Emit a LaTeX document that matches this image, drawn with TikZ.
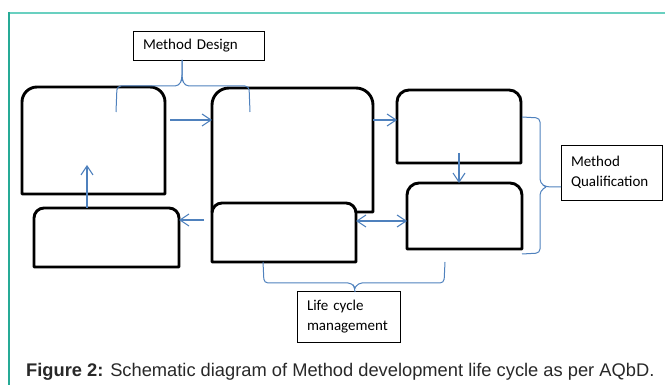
\documentclass[tikz,border=0pt]{standalone}
\usepackage{fontspec}
\setmainfont{Carlito}
\newfontfamily\capfont{Liberation Sans}
\usepackage{tikz}
\usepackage{xcolor}
\usetikzlibrary{positioning, arrows.meta}
\definecolor{mdblue}{RGB}{79, 129, 189}
\definecolor{frameteal}{RGB}{105, 208, 192}
\definecolor{edgeteal}{RGB}{38, 170, 150}
\definecolor{capgray}{RGB}{40, 40, 40}

\tikzset{
  stage/.style={inner sep=0pt, outer sep=0pt, anchor=north west},
  frameline/.style={line width=2.9pt, black, line join=round},
  labelbox/.style={draw, line width=0.8pt, inner xsep=10pt, inner ysep=0pt, outer sep=0pt,
    anchor=north west, align=left, font=\fontsize{15}{20}\selectfont},
  flow/.style={mdblue, line width=1.1pt, -{Straight Barb[length=9pt, width=12pt]}},
  brace/.style={mdblue, line width=1pt, rounded corners=4pt},
}

% outline with rounded top corners only
\newcommand{\tabframe}[3][]{%
  \draw[frameline, #1] (#2.south west) -- ([yshift=-#3]#2.north west)
    arc[start angle=180, end angle=90, radius=#3]
    -- ([xshift=-#3]#2.north east)
    arc[start angle=90, end angle=0, radius=#3] -- (#2.south east) -- cycle;}

\begin{document}
\begin{tikzpicture}[x=1pt, y=-1pt]
                    \useasboundingbox (0,0) rectangle (665,385);
                    \draw[frameteal, line width=2pt] (9,13) -- (665,13);
                    \draw[edgeteal, line width=1.5pt] (9,12) -- (9,385);

                    \node[stage, minimum width=143pt, minimum height=107pt] (leftbox) at (22,87) {};
                    \node[stage, minimum width=161pt, minimum height=124pt] (centerbox) at (212,88) {};
                    \node[stage, minimum width=144pt, minimum height=59pt] (lowcenter) at (212,203) {};
                    \node[stage, minimum width=145pt, minimum height=59pt] (lowleft) at (34,208) {};
                    \node[stage, minimum width=124pt, minimum height=73pt] (rightbox) at (397,90) {};
                    \node[stage, minimum width=115pt, minimum height=66pt] (lowright) at (407,183) {};

                    \tabframe{leftbox}{15pt}
                    \tabframe{centerbox}{17pt}
                    \tabframe[fill=white]{lowcenter}{10pt}
                    \tabframe{lowleft}{10pt}
                    \tabframe{rightbox}{12pt}
                    \tabframe{lowright}{12pt}

                    \node[labelbox, minimum height=29pt, text width=111pt] (mdesign) at (133,31) {Method Design};
                    \node[labelbox, minimum height=55pt, text width=81pt] (mqual) at (561,145) {Method\\Qualification};
                    \node[labelbox, minimum height=51pt, text width=83pt] (lifecycle) at (297,291) {Life cycle\\management};

                    \draw[flow] ([shift={(5pt,-33pt)}]leftbox.north east) -- ([yshift=-32pt]centerbox.north west);
                    \draw[flow] ([yshift=-32pt]centerbox.north east) -- ([yshift=-30pt]rightbox.north west);
                    \draw[flow] ([yshift=10pt]rightbox.south) -- (rightbox.south |- lowright.north);
                    \draw[flow, {Straight Barb[length=9pt, width=12pt]}-{Straight Barb[length=9pt, width=12pt]}]
                      ([yshift=11.5pt]lowcenter.east) -- ([yshift=-5pt]lowright.west);
                    \draw[flow] ([shift={(-8pt,12.5pt)}]lowcenter.west) -- ([yshift=17.5pt]lowleft.east);
                    \draw[flow] ([xshift=-19.5pt]lowleft.north) -- ([shift={(-6.5pt,29pt)}]leftbox.south);

                    \coordinate (mdl) at (116,112);
                    \coordinate (mdr) at (250,112);
                    \draw[brace] (mdl) -- (117,86) -- (179,86) -- (182,79) -- ([xshift=-16.5pt]mdesign.south);
                    \draw[brace] ([xshift=-16.5pt]mdesign.south) -- (182,79) -- (185,86) -- (249,86) -- (mdr);

                    \coordinate (mqt) at (522,117);
                    \coordinate (mqb) at (522,254);
                    \draw[brace] (mqt) -- (540,118) -- (540,183) -- (546,187) -- ([yshift=-14.5pt]mqual.west);
                    \draw[brace] (mqb) -- (540,253) -- (540,191) -- (546,187);

                    \coordinate (lcl) at (263,262);
                    \coordinate (lcr) at (445,262);
                    \draw[brace] (lcl) -- (264,283) -- (352,283) -- (355,288) -- ([xshift=6.5pt]lifecycle.north);
                    \draw[brace] (lcr) -- (444,283) -- (358,283) -- (355,288);

                    \node[anchor=base west, inner sep=0pt, text=capgray, font=\capfont\fontsize{18.3}{20}\selectfont] (caption) at (26,377)
                      {\textbf{Figure 2:} Schematic diagram of Method development life cycle as per AQbD.};
                \end{tikzpicture}
\end{document}
